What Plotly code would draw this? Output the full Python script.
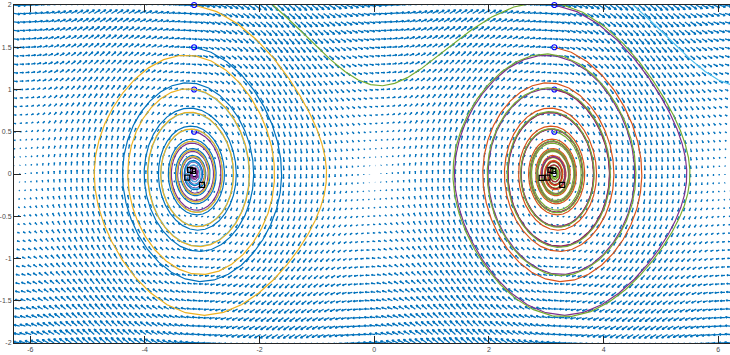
import numpy as np
import plotly.graph_objects as go

# System: x' = y,  y' = sin(x) - damping * y
damping = 0.1
t_end = 50.0
t_store = 0.2          # spacing of stored solution points
t_step = 0.005         # RK4 step

# Quiver grid
grid_x_start = -2 * np.pi
grid_x_step = 0.1
grid_x_count = 126
grid_y_values = np.round(np.arange(-2.0, 2.0 + 1e-9, 0.1), 10)

# Initial conditions (x0 in start_x, y0 in start_y)
start_x = [-np.pi, np.pi]
start_y = [0.0, 0.5, 1.0, 1.5, 2.0, 2.5]

# Line colour order (quiver takes the first colour, curves continue the cycle)
color_order = ["#0072BD", "#D95319", "#EDB120", "#7E2F8E",
               "#77AC30", "#4DBEEE", "#A2142F"]

x_ticks = [-6, -4, -2, 0, 2, 4, 6]
y_ticks = [-2, -1.5, -1, -0.5, 0, 0.5, 1, 1.5, 2]


def field(x, y):
    return y, np.sin(x) - damping * y


def integrate(x0, y0):
    n = int(round(t_end / t_step))
    every = int(round(t_store / t_step))
    x, y = x0, y0
    xs, ys = [x], [y]
    for i in range(1, n + 1):
        k1x, k1y = field(x, y)
        k2x, k2y = field(x + 0.5 * t_step * k1x, y + 0.5 * t_step * k1y)
        k3x, k3y = field(x + 0.5 * t_step * k2x, y + 0.5 * t_step * k2y)
        k4x, k4y = field(x + t_step * k3x, y + t_step * k3y)
        x += t_step / 6 * (k1x + 2 * k2x + 2 * k3x + k4x)
        y += t_step / 6 * (k1y + 2 * k2y + 2 * k3y + k4y)
        if i % every == 0 or i == n:
            xs.append(x)
            ys.append(y)
    return np.array(xs), np.array(ys)


# ---- quiver arrows (autoscaled like MATLAB's quiver) ----
gx = grid_x_start + grid_x_step * np.arange(grid_x_count)
X, Y = np.meshgrid(gx, grid_y_values)
U, V = field(X, Y)
m, n = X.shape
delx = (X.max() - X.min()) / n
dely = (Y.max() - Y.min()) / m
dl = delx ** 2 + dely ** 2
maxlen = np.sqrt((U ** 2 + V ** 2) / dl).max()
s = 0.9 / maxlen
U = U * s
V = V * s
alpha, beta = 0.33, 0.33
eps = 1e-12

qx, qy = [], []
for xa, ya, ua, va in zip(X.ravel(), Y.ravel(), U.ravel(), V.ravel()):
    qx += [xa, xa + ua, None,
           xa + ua - alpha * (ua + beta * (va + eps)), xa + ua,
           xa + ua - alpha * (ua - beta * (va + eps)), None]
    qy += [ya, ya + va, None,
           ya + va - alpha * (va - beta * (ua + eps)), ya + va,
           ya + va - alpha * (va + beta * (ua + eps)), None]

fig = go.Figure()
fig.add_trace(go.Scatter(x=qx, y=qy, mode="lines",
                         line=dict(color=color_order[0], width=1.3),
                         hoverinfo="skip", showlegend=False))

# ---- trajectories ----
k = 1
for y0 in start_y:
    for x0 in start_x:
        tx, ty = integrate(x0, y0)
        col = color_order[k % len(color_order)]
        k += 1
        fig.add_trace(go.Scatter(x=tx, y=ty, mode="lines",
                                 line=dict(color=col, width=1.2),
                                 showlegend=False))
        fig.add_trace(go.Scatter(x=[tx[0]], y=[ty[0]], mode="markers",
                                 marker=dict(symbol="circle-open", size=5,
                                             color="#0000FF",
                                             line=dict(width=1.2)),
                                 cliponaxis=False, showlegend=False))
        fig.add_trace(go.Scatter(x=[tx[-1]], y=[ty[-1]], mode="markers",
                                 marker=dict(symbol="square-open", size=5,
                                             color="#000000",
                                             line=dict(width=1.2)),
                                 cliponaxis=False, showlegend=False))

axis_style = dict(showgrid=False, zeroline=False, showline=True,
                  linecolor="#262626", linewidth=1,
                  ticks="inside", ticklen=7, tickwidth=1, tickcolor="#262626",
                  tickfont=dict(family="Liberation Sans", size=7, color="#4a4a4a"))

fig.update_layout(
    width=730, height=355,
    margin=dict(l=14, r=0, t=5, b=12),
    paper_bgcolor="white", plot_bgcolor="white",
    xaxis=dict(range=[-2 * np.pi, 6.205], tickvals=x_ticks,
               ticktext=[str(v) for v in x_ticks], mirror="ticks",
               **axis_style),
    yaxis=dict(range=[-2, 2], tickvals=y_ticks,
               ticktext=[f"{v:g}" for v in y_ticks], mirror=False,
               **axis_style),
)

fig.write_html("out.html")
